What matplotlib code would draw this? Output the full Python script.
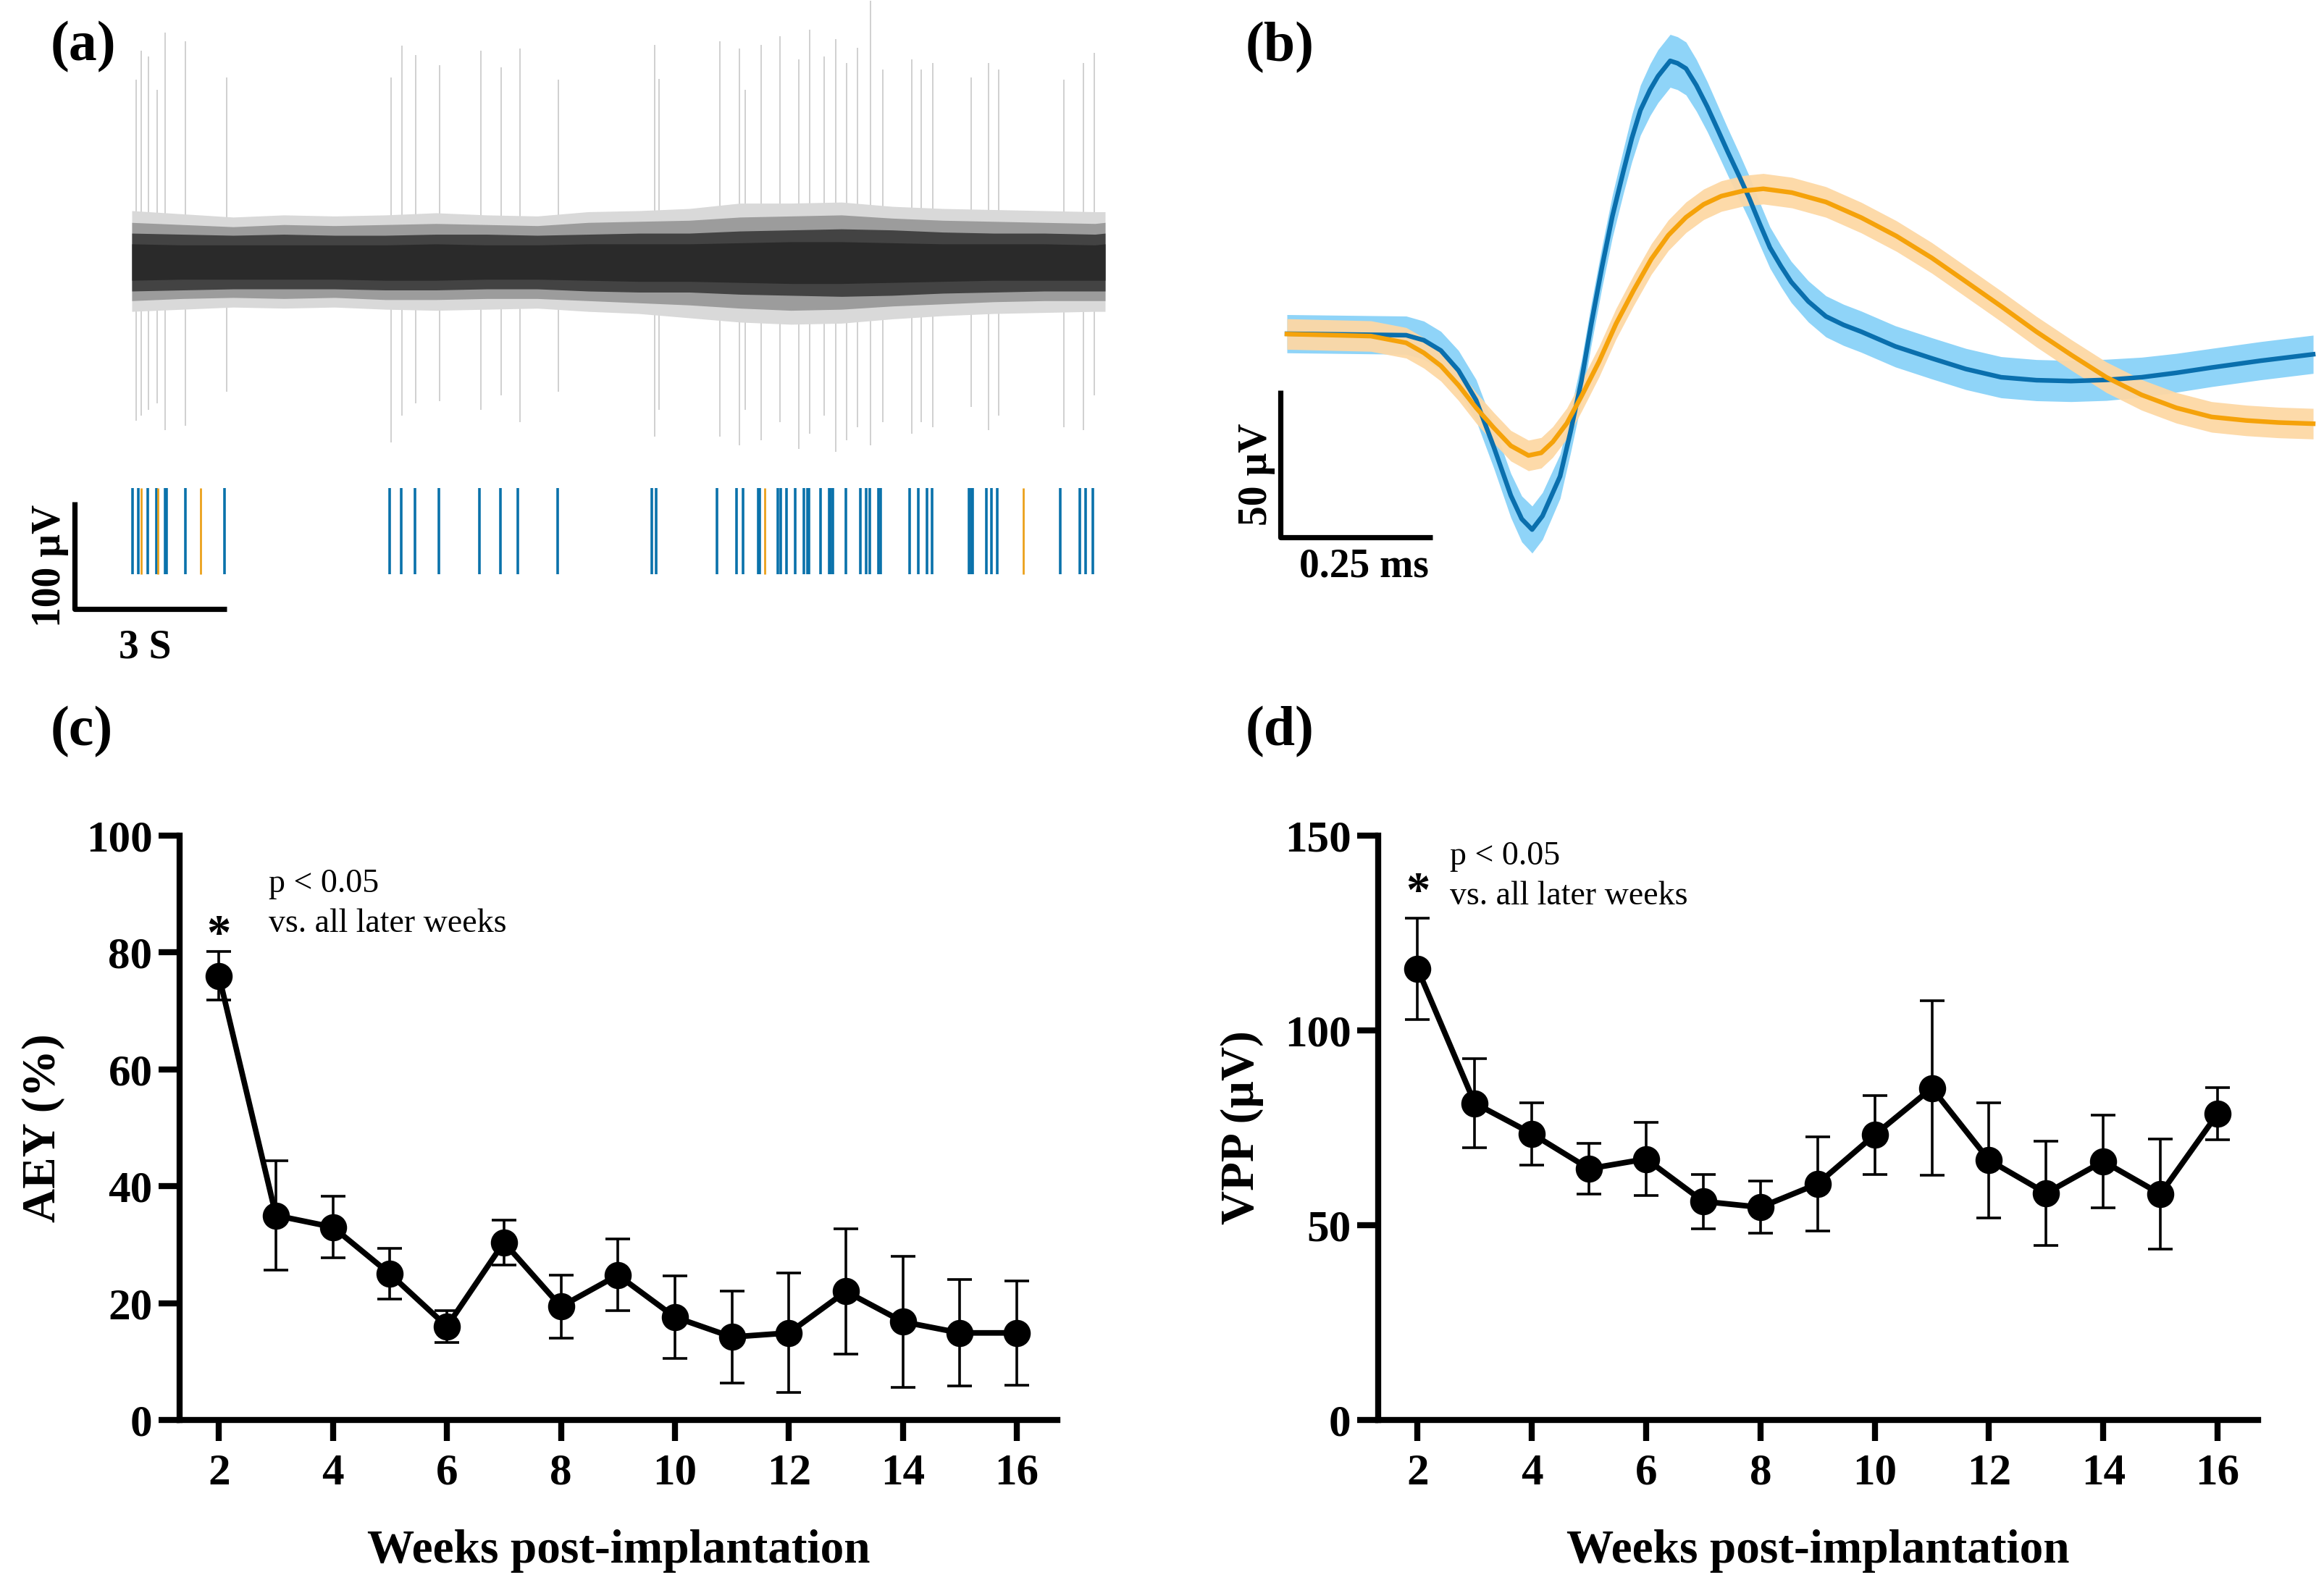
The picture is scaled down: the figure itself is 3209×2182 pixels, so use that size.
import numpy as np
import matplotlib.pyplot as plt

plt.rcParams['font.family'] = ['Liberation Serif', 'DejaVu Serif']

# ---------------- (a) raw trace + raster ----------------
# spike times (s) of the two sorted units
blue_times = [0.02, 0.13, 0.32, 0.49, 0.65, 0.69, 1.05, 1.83, 5.09, 5.32, 5.58, 6.06,
              6.86, 7.27, 7.62, 8.40, 10.25, 10.34, 11.54, 11.93, 12.05, 12.35, 12.38,
              12.74, 12.80, 12.92, 13.09, 13.25, 13.33, 13.36, 13.59, 13.75, 13.78, 13.83,
              14.08, 14.37, 14.48, 14.56, 14.73, 14.77, 15.34, 15.51, 15.69, 15.78, 16.52,
              16.55, 16.58, 16.86, 16.95, 17.07, 18.31, 18.70, 18.81, 18.95]
orange_times = [0.18, 0.52, 1.36, 12.48, 17.59]

# large deflections visible in the raw trace (s, peak uV, trough uV)
trace_spike_t = [0.08, 0.18, 0.33, 0.50, 0.65, 1.06, 1.87, 5.12, 5.33, 5.60, 6.07, 6.88,
                 7.29, 7.66, 8.41, 10.31, 10.40, 11.60, 11.99, 12.10, 12.42, 12.79, 13.15,
                 13.37, 13.66, 13.88, 14.10, 14.32, 14.57, 14.81, 15.39, 15.57, 15.80,
                 16.56, 16.90, 17.10, 18.38, 18.77, 18.99]
trace_spike_hi = [170, 197, 192, 161, 214, 206, 172, 172, 202, 193, 184, 197,
                  182, 199, 170, 203, 171, 206, 199, 161, 203, 211, 189,
                  217, 192, 208, 186, 200, 244, 180, 189, 180, 186,
                  172, 186, 180, 170, 186, 195]
trace_spike_lo = [-148, -143, -138, -132, -157, -153, -121, -168, -143, -132, -130, -138,
                  -124, -149, -121, -163, -138, -163, -171, -138, -166, -149, -174,
                  -160, -143, -177, -166, -154, -171, -149, -160, -149, -154,
                  -135, -157, -143, -154, -157, -124]

# noise band envelopes of the raw trace (uV), from dark core to faint fringe
env_t = [0, 1, 2, 3, 4, 5, 6, 7, 8, 9, 10, 11, 12, 13, 14, 15, 16, 17, 18, 19, 19.2]
inner_hi = [17, 16, 16, 16, 16, 16, 17, 16, 16, 17, 17, 17, 18, 19, 19, 18, 17, 17, 17, 16, 17]
inner_lo = [-17, -16, -16, -16, -16, -17, -17, -16, -16, -17, -18, -18, -19, -20, -20, -19, -18, -17, -17, -17, -17]
core_hi = [27, 26, 25, 26, 25, 25, 26, 26, 25, 26, 27, 27, 29, 30, 31, 30, 28, 27, 27, 26, 27]
core_lo = [-27, -26, -25, -25, -25, -26, -26, -25, -25, -27, -28, -28, -30, -31, -32, -31, -29, -28, -27, -27, -27]
shoulder_hi = [37, 35, 33, 35, 34, 35, 36, 35, 34, 37, 38, 39, 42, 43, 44, 41, 39, 38, 37, 36, 37]
shoulder_lo = [-36, -34, -33, -34, -33, -35, -35, -34, -34, -36, -38, -40, -43, -45, -44, -41, -39, -37, -36, -36, -36]
fuzz_hi = [48, 45, 42, 44, 43, 44, 46, 44, 43, 47, 48, 50, 55, 55, 56, 52, 50, 49, 48, 47, 47]
fuzz_lo = [-46, -44, -42, -43, -42, -44, -45, -44, -43, -46, -48, -52, -56, -58, -57, -53, -50, -48, -47, -46, -46]

# ---------------- (b) mean waveforms (ms, uV) ----------------
blue_wf_t = [0, 0.196, 0.225, 0.253, 0.282, 0.311, 0.340, 0.368, 0.386, 0.403, 0.420,
             0.449, 0.466, 0.484, 0.500, 0.518, 0.535, 0.553, 0.567, 0.581, 0.597,
             0.610, 0.630, 0.642, 0.656, 0.673, 0.691, 0.708, 0.725, 0.743, 0.760,
             0.777, 0.794, 0.812, 0.829, 0.857, 0.886, 0.915, 0.944, 1.000, 1.059,
             1.116, 1.174, 1.232, 1.289, 1.347, 1.405, 1.462, 1.520, 1.600, 1.687]
blue_wf = [0, -0.5, -2.2, -5.7, -12.5, -22.6, -38.5, -55, -63, -66.6, -62,
           -48.5, -33.5, -16.1, 3, 22.8, 40, 55.2, 66.5, 76, 83,
           87.6, 92.8, 92, 90.2, 84.5, 77.2, 69.5, 61.7, 53.8, 46.1,
           37.5, 29.3, 23.0, 17.6, 11.0, 5.9, 3.0, 0.7, -4.3, -8.3,
           -12, -14.8, -15.8, -16.1, -15.7, -14.8, -13.3, -11.5, -9.2, -7.0]
blue_sem = [6.5, 6.5, 6.5, 6.5, 6.8, 7, 7.2, 7.5, 7.8, 8, 8,
            7.5, 7.2, 7, 7, 7, 7.2, 7.5, 8, 8.5, 8.8,
            9, 9, 9, 9, 8.8, 8.5, 8.2, 8, 7.8, 7.5,
            7.2, 7, 7, 7, 7, 7, 7, 7, 7, 7,
            7, 7, 7, 7, 7, 6.8, 6.6, 6.5, 6.5, 6.5]
orange_wf_t = [0, 0.138, 0.196, 0.225, 0.253, 0.282, 0.311, 0.340, 0.368, 0.397, 0.418,
               0.437, 0.460, 0.484, 0.513, 0.541, 0.570, 0.599, 0.627, 0.656, 0.685,
               0.714, 0.750, 0.783, 0.830, 0.886, 0.944, 1.002, 1.060, 1.117, 1.175,
               1.232, 1.290, 1.347, 1.405, 1.462, 1.520, 1.577, 1.630, 1.687]
orange_wf = [-0.1, -0.8, -3.1, -6.5, -10.9, -17.5, -25.2, -32, -38.1, -41.4, -40.5,
             -36.8, -30.5, -21.3, -9.5, 3.4, 14.8, 25.4, 33.5, 39.6, 44,
             46.8, 48.6, 49.3, 48.0, 44.8, 39.5, 33.2, 25.8, 17.6, 9.2,
             0.7, -7.3, -14.8, -20.8, -25.2, -28.3, -29.5, -30.2, -30.6]
orange_sem = [5.2] * len(orange_wf)

# ---------------- (c), (d) weekly summary ----------------
weeks = [2, 3, 4, 5, 6, 7, 8, 9, 10, 11, 12, 13, 14, 15, 16]
aey = [76.0, 35.0, 33.0, 25.0, 16.0, 30.4, 19.4, 24.8, 17.6, 14.2, 14.9, 22.0, 16.8, 14.9, 14.9]
aey_sem = [4.15, 9.4, 5.3, 4.35, 2.7, 3.85, 5.35, 6.15, 7.05, 7.85, 10.25, 10.7, 11.25, 9.1, 8.95]
vpp = [115.8, 81.3, 73.5, 64.5, 67.0, 56.1, 54.6, 60.6, 73.2, 85.2, 66.7, 58.2, 66.4, 58.0, 78.6]
vpp_sem = [13.1, 11.45, 8.0, 6.55, 9.4, 7.0, 6.7, 12.0, 10.15, 22.45, 14.75, 13.35, 11.9, 14.05, 6.7]

BLUE = '#0a72ab'
ORANGE = '#eba11b'
W, H = 3209, 2182
fig = plt.figure(figsize=(W / 200, H / 200), dpi=200)


def px_axes(x0, y0, x1, y1):
    return fig.add_axes([x0 / W, 1 - y1 / H, (x1 - x0) / W, (y1 - y0) / H])


# ===== (a) =====
axa = px_axes(40, 0, 1560, 920)
axa.set_xlim(-2.0286, 19.6857)
axa.set_ylim(-377.0, 244.6)
axa.axis('off')
axa.vlines(trace_spike_t, trace_spike_lo, trace_spike_hi, color='#c8c8c8', lw=0.6, zorder=1)
axa.fill_between(env_t, fuzz_lo, fuzz_hi, color='#d9d9d9', lw=0, zorder=2)
axa.fill_between(env_t, shoulder_lo, shoulder_hi, color='#9c9c9c', lw=0, zorder=3)
axa.fill_between(env_t, core_lo, core_hi, color='#434343', lw=0, zorder=4)
axa.fill_between(env_t, inner_lo, inner_hi, color='#2a2a2a', lw=0, zorder=5)
axa.vlines(blue_times, -291, -211, color=BLUE, lw=1.3, zorder=6)
axa.vlines(orange_times, -291, -211, color=ORANGE, lw=1.0, zorder=7)
# scale bars
axa.plot([-1.13, -1.13, 1.87], [-223.6, -323.6, -323.6], color='k', lw=2.6,
         solid_capstyle='butt', clip_on=False)
axa.text(-1.62, -283, '100 µV', rotation=90, ha='center', va='center',
         fontsize=20, fontweight='bold')
axa.text(0.26, -360, '3 S', ha='center', va='center', fontsize=20, fontweight='bold')

# ===== (b) =====
axb = px_axes(1700, 0, 3209, 830)
axb.set_xlim(-0.0917, 1.7048)
axb.set_ylim(-90.9, 113.5)
axb.axis('off')
bw = np.array(blue_wf)
bs = np.array(blue_sem)
ow = np.array(orange_wf)
osm = np.array(orange_sem)
axb.fill_between(blue_wf_t, bw - bs, bw + bs, color='#8fd4f8', lw=0, zorder=1)
axb.fill_between(orange_wf_t, ow - osm, ow + osm, color='#fdd8a5', lw=0, alpha=0.95, zorder=2)
axb.plot(blue_wf_t, blue_wf, color='#0a6fad', lw=2.3, zorder=3)
axb.plot(orange_wf_t, orange_wf, color='#f5a20a', lw=2.3, zorder=4)
axb.plot([-0.0107, -0.0107, 0.2393], [-19.2, -69.2, -69.2], color='k', lw=2.6,
         solid_capstyle='butt', clip_on=False)
axb.text(-0.05, -47.8, '50 µV', rotation=90, ha='center', va='center',
         fontsize=20, fontweight='bold')
axb.text(0.127, -79.3, '0.25 ms', ha='center', va='center', fontsize=20, fontweight='bold')


# ===== (c), (d) =====
def summary_panel(ax, mean, sem, ymax, yticks, ylabel, star_y, txt_x, txt_y1, txt_y2):
    ax.errorbar(weeks, mean, yerr=sem, fmt='-o', color='k', ms=12.5, lw=2.8,
                elinewidth=1.3, capsize=6, capthick=1.3, clip_on=False, zorder=3)
    ax.set_xlim(1.31, 16.71)
    ax.set_ylim(0, ymax)
    ax.set_xticks(range(2, 17, 2))
    ax.set_yticks(yticks)
    for s in ['top', 'right']:
        ax.spines[s].set_visible(False)
    for s in ['left', 'bottom']:
        ax.spines[s].set_linewidth(3)
    ax.tick_params(width=3, length=10.5, labelsize=22)
    ax.tick_params(axis='x', pad=6)
    ax.tick_params(axis='y', pad=3)
    for lab in ax.get_xticklabels() + ax.get_yticklabels():
        lab.set_fontweight('bold')
    ax.set_xlabel('Weeks post-implantation', fontsize=23.5, fontweight='bold')
    ax.set_ylabel(ylabel, fontsize=23.5, fontweight='bold')
    ax.xaxis.set_label_coords(0.5, -0.187)
    ax.yaxis.set_label_coords(-0.13, 0.5)
    ax.text(2, star_y, '*', ha='center', va='center', fontsize=24, fontweight='bold')
    ax.text(txt_x, txt_y1, 'p < 0.05', ha='left', va='center', fontsize=16.5)
    ax.text(txt_x, txt_y2, 'vs. all later weeks', ha='left', va='center', fontsize=16.5)


axc = px_axes(248, 1154, 1460, 1961)
summary_panel(axc, aey, aey_sem, 100, [0, 20, 40, 60, 80, 100], 'AEY (%)',
              82.8, 2.87, 91.7, 84.9)
axd = px_axes(1903, 1154, 3118, 1961)
summary_panel(axd, vpp, vpp_sem, 150, [0, 50, 100, 150], 'VPP (µV)',
              135.3, 2.57, 144.6, 134.4)

# panel letters
for lab, x, y in [('(a)', 115, 65), ('(b)', 1767, 66), ('(c)', 113, 1011), ('(d)', 1767, 1011)]:
    fig.text(x / W, 1 - y / H, lab, ha='center', va='center', fontsize=28, fontweight='bold')

fig.savefig('out.png', dpi=200)
